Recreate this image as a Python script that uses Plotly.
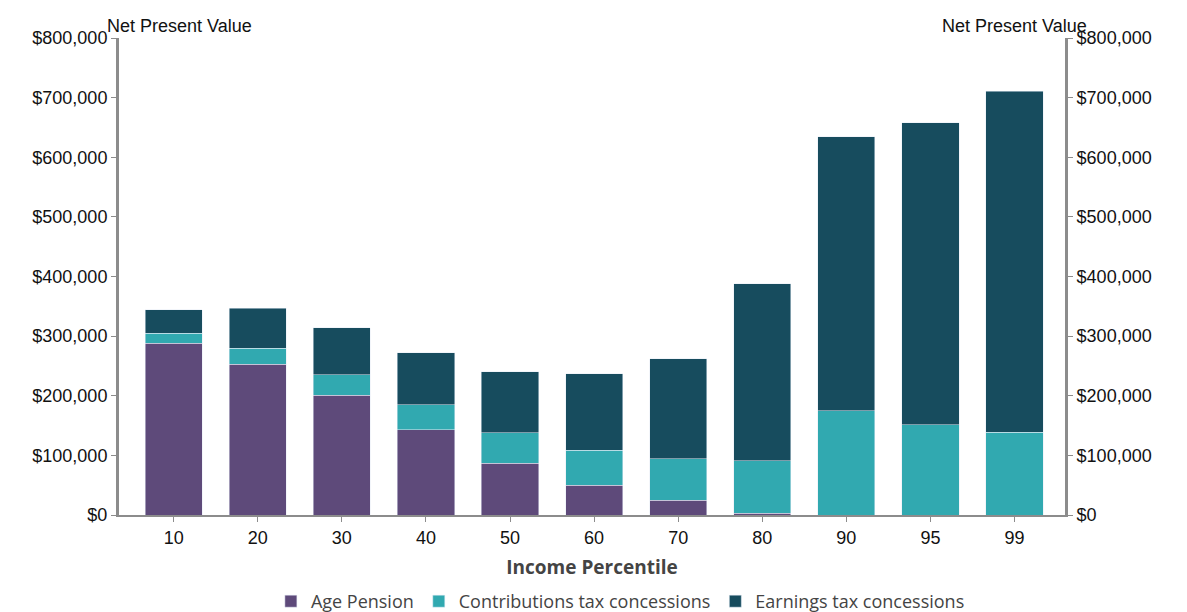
import plotly.graph_objects as go

percentiles = ["10", "20", "30", "40", "50", "60", "70", "80", "90", "95", "99"]
age_pension = [288000, 253000, 201000, 143000, 87000, 50000, 25000, 3000, 0, 0, 0]
contributions = [17000, 27000, 34000, 42000, 51000, 59000, 69000, 88000, 175000, 151000, 139000]
earnings = [39000, 67000, 79000, 87000, 102000, 128000, 168000, 297000, 459000, 507000, 572000]

tickvals = list(range(0, 800001, 100000))
ticktext = ["$0"] + ["${:,}".format(v) for v in tickvals[1:]]

fig = go.Figure()
fig.add_bar(x=percentiles, y=age_pension, name="Age Pension", marker_color="#5e4a7a")
fig.add_bar(x=percentiles, y=contributions, name="Contributions tax concessions", marker_color="#31a9b0")
fig.add_bar(x=percentiles, y=earnings, name="Earnings tax concessions", marker_color="#174c5e")
# invisible trace to show the right axis
fig.add_scatter(x=percentiles, y=[0] * len(percentiles), yaxis="y2", mode="markers",
                marker_opacity=0, showlegend=False, hoverinfo="skip")

axis_style = dict(range=[0, 800000], tickvals=tickvals, ticktext=ticktext, automargin=False,
                  showgrid=False, showline=True, linecolor="#8c8c8c", linewidth=3,
                  ticks="outside", ticklen=5, tickcolor="#8c8c8c",
                  tickfont=dict(family="Arial", size=18, color="#111"))

fig.update_layout(
    barmode="stack", bargap=0.32,
    width=1187, height=612, plot_bgcolor="white", paper_bgcolor="white",
    margin=dict(l=111, r=130, t=30, b=105),
    font=dict(family="Arial", color="#111"),
    xaxis=dict(showline=True, linecolor="#8c8c8c", linewidth=2, ticks="outside", automargin=False,
               tickcolor="#8c8c8c", tickfont=dict(size=18), range=[-0.65, 10.6],
               title=dict(text="<b>Income Percentile</b>", font=dict(family="Open Sans", size=19, color="#444"),
                          standoff=14)),
    yaxis=axis_style,
    yaxis2=dict(axis_style, overlaying="y", side="right"),
    legend=dict(orientation="h", x=0.53, xanchor="center", yref="container", y=0.0, yanchor="bottom",
                font=dict(family="Open Sans", size=18, color="#444"), traceorder="normal"),
    annotations=[
        dict(text="Net Present Value", xref="paper", yref="paper", x=-0.015, y=1.0, xanchor="left",
             yanchor="bottom", showarrow=False, font=dict(size=18)),
        dict(text="Net Present Value", xref="paper", yref="paper", x=1.025, y=1.0, xanchor="right",
             yanchor="bottom", showarrow=False, font=dict(size=18)),
    ],
)
fig.write_html("out.html")
